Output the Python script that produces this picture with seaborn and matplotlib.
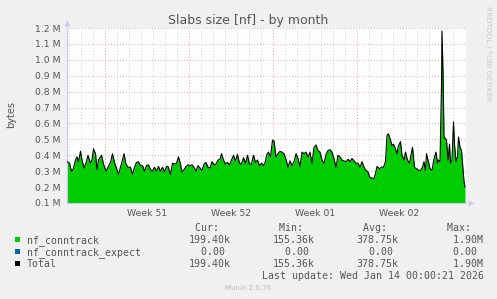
import numpy as np
import pandas as pd
import matplotlib
matplotlib.use("Agg")
import matplotlib.pyplot as plt
import matplotlib.dates as mdates
from matplotlib.patches import Rectangle
import seaborn as sns

sns.set_theme(style="white")
plt.rcParams["font.family"] = ["DejaVu Sans"]

# ---------------- data ----------------
start_time = "2025-12-11 20:00"
end_time = "2026-01-14 00:00"
hours = [0, 5, 9, 12, 17, 20, 23, 27, 30, 34, 38, 42, 47, 50, 53, 57, 60, 63, 69, 73,
         78, 82, 87, 91, 95, 100, 103, 107, 111, 114, 118, 122, 127, 131, 135, 139, 143, 147, 151, 155,
         159, 163, 167, 171, 175, 179, 183, 187, 191, 195, 199,
         202, 207, 211, 215, 219, 223, 227, 230, 234, 238, 242, 246, 250, 254, 258, 262, 266, 270, 274, 278,
         282, 286, 290, 294, 298, 302, 306, 309, 313, 317, 321, 325, 329, 333, 337, 341, 345, 349, 353, 357,
         361, 365, 369, 373, 377, 381, 385, 389, 393, 397, 399,
         403, 407, 411, 414, 418, 422, 426, 430, 434, 438, 442, 446, 450, 454, 458, 462, 466, 470, 474, 478,
         482, 486, 490, 494, 498, 502, 506, 510, 514, 518, 522, 526, 530, 534, 538, 542, 546, 550, 554, 558,
         562, 566, 570, 574, 578, 582, 586, 590, 594, 598,
         602, 605, 610, 614, 617, 620, 625, 629, 633, 637, 640, 643, 647, 650, 653, 657, 660, 663, 667, 670,
         674, 677, 681, 685, 689, 691, 695, 699, 703, 707, 711, 714, 717, 719, 722, 726, 730, 733, 735, 738,
         741, 743, 746, 749, 750, 752, 754, 757, 759, 762, 765, 767, 770, 773, 775, 778, 781, 783, 786, 789,
         791, 794, 796]
nf_conntrack_mb = [0.36, 0.35, 0.30, 0.31, 0.37, 0.39, 0.36, 0.425, 0.37, 0.32, 0.35, 0.40, 0.35, 0.37, 0.44, 0.41, 0.31, 0.37, 0.40, 0.345,
                   0.30, 0.325, 0.355, 0.41, 0.355, 0.31, 0.28, 0.325, 0.37, 0.41, 0.345, 0.325, 0.325, 0.28, 0.325, 0.355, 0.36, 0.335, 0.335, 0.30,
                   0.335, 0.34, 0.31, 0.30, 0.325, 0.30, 0.33, 0.30, 0.325, 0.295, 0.33,
                   0.33, 0.28, 0.35, 0.345, 0.35, 0.39, 0.345, 0.295, 0.31, 0.33, 0.34, 0.335, 0.34, 0.325, 0.30, 0.335, 0.32, 0.305, 0.345, 0.355,
                   0.325, 0.32, 0.36, 0.34, 0.345, 0.37, 0.375, 0.41, 0.37, 0.345, 0.355, 0.34, 0.37, 0.40, 0.365, 0.405, 0.35, 0.345, 0.385, 0.35,
                   0.40, 0.345, 0.345, 0.40, 0.355, 0.37, 0.335, 0.35, 0.335, 0.36, 0.40,
                   0.42, 0.39, 0.495, 0.49, 0.39, 0.41, 0.425, 0.42, 0.41, 0.375, 0.325, 0.365, 0.335, 0.36, 0.41, 0.38, 0.33, 0.42, 0.41, 0.42,
                   0.39, 0.42, 0.35, 0.45, 0.465, 0.43, 0.42, 0.37, 0.35, 0.405, 0.43, 0.435, 0.42, 0.38, 0.325, 0.40, 0.39, 0.37, 0.365, 0.36,
                   0.375, 0.36, 0.38, 0.365, 0.35, 0.35, 0.325, 0.36, 0.325, 0.305,
                   0.295, 0.265, 0.255, 0.255, 0.285, 0.33, 0.315, 0.325, 0.325, 0.36, 0.525, 0.535, 0.495, 0.46, 0.47, 0.44, 0.41, 0.46, 0.485, 0.40,
                   0.37, 0.42, 0.37, 0.35, 0.42, 0.45, 0.325, 0.315, 0.305, 0.305, 0.325, 0.36, 0.305, 0.41, 0.37, 0.315, 0.305, 0.36, 0.39, 0.42,
                   0.35, 0.37, 0.36, 0.83, 1.18, 0.93, 0.515, 0.505, 0.495, 0.37, 0.47, 0.35, 0.37, 0.61, 0.47, 0.36, 0.39, 0.515, 0.45, 0.43,
                   0.35, 0.235, 0.20]

week_starts = ["2025-12-15", "2025-12-22", "2025-12-29", "2026-01-05", "2026-01-12"]
week_mids = ["2025-12-18 12:00", "2025-12-25 12:00", "2026-01-01 12:00", "2026-01-08 12:00"]
week_labels = ["Week 51", "Week 52", "Week 01", "Week 02"]
y_ticks = [0.1, 0.2, 0.3, 0.4, 0.5, 0.6, 0.7, 0.8, 0.9, 1.0, 1.1, 1.2]

title = "Slabs size [nf] - by month"
y_label = "bytes"
legend_names = ["nf_conntrack", "nf_conntrack_expect", "Total"]
legend_colors = ["#00CC00", "#0066B3", "#000000"]
col_headers = ["Cur:", "Min:", "Avg:", "Max:"]
cur_vals = ["199.40k", "  0.00 ", "199.40k"]
min_vals = ["155.36k", "  0.00 ", "155.36k"]
avg_vals = ["378.75k", "  0.00 ", "378.75k"]
max_vals = ["  1.90M", "  0.00 ", "  1.90M"]
last_update = "Last update: Wed Jan 14 00:00:21 2026"
footer = "Munin 2.0.76"
side_text = "RRDTOOL / TOBI OETIKER"

# ---------------- figure ----------------
W, H = 497, 299
BG = "#F0F0F0"
TXT = "#555555"
fig = plt.figure(figsize=(W / 100, H / 100), dpi=100, facecolor=BG)
ax = fig.add_axes([67 / W, 1 - 203 / H, 399 / W, 175 / H])
ax.set_facecolor("white")

t0 = pd.Timestamp(start_time)
df = pd.DataFrame({"time": t0 + pd.to_timedelta(hours, unit="h"),
                   "value": nf_conntrack_mb})

ax.fill_between(df["time"], 0, df["value"], color=legend_colors[0], lw=0, zorder=2)
sns.lineplot(data=df, x="time", y="value", color="black", lw=0.8, ax=ax, zorder=3)

ax.set_xlim(t0, t0 + pd.Timedelta(hours=798))
ax.set_ylim(y_ticks[0], y_ticks[-1])
ax.set_xlabel("")
ax.set_ylabel("")

# ticks & grid
ax.set_yticks(y_ticks)
ax.set_yticklabels([f"{v:.1f} M" for v in y_ticks])
ax.set_xticks(pd.to_datetime(week_starts))
ax.set_xticklabels([])
days = pd.date_range("2025-12-12", "2026-01-13", freq="D")
ax.set_xticks([d for d in days if d not in set(pd.to_datetime(week_starts))], minor=True)

dot = (0, (1, 2))
ax.grid(which="minor", axis="x", color="#D0D0D0", ls=dot, lw=0.7)
ax.grid(which="major", axis="x", color="#E4A8A8", ls=dot, lw=0.7)
ax.grid(which="major", axis="y", color="#E4A8A8", ls=dot, lw=0.7)
ax.set_axisbelow(True)

ax.tick_params(axis="y", which="major", direction="out", length=3, width=0.6,
               color="#AAAAAA", labelsize=6.7, labelcolor=TXT, pad=2)
ax.tick_params(axis="x", which="major", direction="out", length=2, width=0.7,
               color="#E08080", labelsize=6.7)
ax.tick_params(axis="x", which="minor", direction="out", length=2, width=0.6,
               color="#BBBBBB")

for s in ["top", "right"]:
    ax.spines[s].set_visible(False)
for s in ["left", "bottom"]:
    ax.spines[s].set_color("#C8C8F0")
    ax.spines[s].set_linewidth(0.8)

# axis arrows
ax.plot([1.0 + 5 / 399], [0], marker=">", ms=4, color="#C8C8F0",
        transform=ax.transAxes, clip_on=False, mec="none")
ax.plot([0], [1.0 + 5 / 175], marker="^", ms=4, color="#C8C8F0",
        transform=ax.transAxes, clip_on=False, mec="none")

# week labels
xt = ax.get_xaxis_transform()
for m, lab in zip(pd.to_datetime(week_mids), week_labels):
    ax.text(m, -13 / 175, lab, transform=xt, ha="center", va="baseline",
            fontsize=6.7, color=TXT)

# title / labels
def fy(y):
    return 1 - y / H

fig.text(248 / W, fy(24), title, ha="center", va="baseline", fontsize=9, color=TXT)
fig.text(11 / W, fy(114), y_label, ha="center", va="center", rotation=90,
         fontsize=7, color=TXT)
fig.text(488 / W, fy(53.5), side_text, ha="center", va="center", rotation=270,
         fontsize=5.4, color="#C8C8C8")

# legend
mono = dict(family="DejaVu Sans Mono", fontsize=7.1, color=TXT, va="baseline", ha="left")
col_x = [188.7, 272.7, 356.7, 440.7]
for cx, h in zip(col_x, col_headers):
    fig.text(cx / W, fy(227.7 + 3.6), " " + h, **mono)
rows_y = [239.7, 251.7, 263.3]
for i, (name, c) in enumerate(zip(legend_names, legend_colors)):
    ry = rows_y[i]
    fig.patches.append(Rectangle((14.7 / W, fy(ry + 2.5)), 5 / W, 5 / H,
                                 transform=fig.transFigure, color=c, lw=0))
    fig.text(26.7 / W, fy(ry + 3.6), name, **mono)
    for cx, vals in zip(col_x, [cur_vals, min_vals, avg_vals, max_vals]):
        fig.text(cx / W, fy(ry + 3.6), vals[i], **mono)
fig.text(261.7 / W, fy(275.5 + 3.6), last_update, **mono)
fig.text(248 / W, fy(288 + 2.5), footer, ha="center", va="baseline",
         fontsize=5, color="#BBBBBB")

fig.savefig("out.png", dpi=100, facecolor=BG)
